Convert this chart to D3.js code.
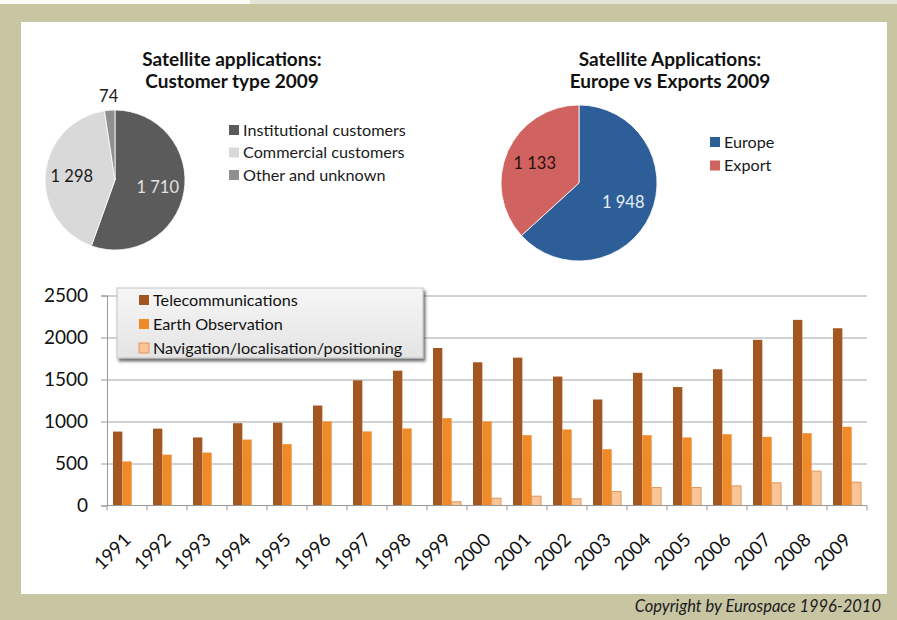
<!DOCTYPE html>
<html>
<head>
<meta charset="utf-8">
<script src="https://cdn.jsdelivr.net/npm/d3@7"></script>
<style>
  body { margin: 0; background: #c8c5a3; }
  svg { display: block; font-family: Lato, "Open Sans", sans-serif; }
</style>
</head>
<body>
<div id="chart"></div>
<script>
// bar chart data
const years = ['1991', '1992', '1993', '1994', '1995', '1996', '1997', '1998', '1999', '2000',
               '2001', '2002', '2003', '2004', '2005', '2006', '2007', '2008', '2009'];
const telecom = [880, 915, 810, 980, 985, 1190, 1490, 1605, 1875, 1705, 1760, 1535, 1262, 1580, 1410, 1622, 1972, 2210, 2110];
const earthObs = [525, 605, 630, 785, 730, 1000, 882, 917, 1040, 1000, 837, 905, 670, 837, 810, 849, 817, 861, 937];
const navigation = [0, 0, 0, 0, 0, 0, 0, 0, 44, 87, 111, 79, 167, 214, 214, 234, 270, 409, 278];
const seriesNames = ['Telecommunications', 'Earth Observation', 'Navigation/localisation/positioning'];
const yTicks = [0, 500, 1000, 1500, 2000, 2500];

// pie data
const customerLabels = ['Institutional customers', 'Commercial customers', 'Other and unknown'];
const customerValues = [1710, 1298, 74];
const marketLabels = ['Europe', 'Export'];
const marketValues = [1948, 1133];

const width = 897;
const height = 620;

const svg = d3.select('#chart')
  .append('svg')
  .attr('width', width)
  .attr('height', height);

const defs = svg.append('defs');
defs.append('filter').attr('id', 'shadow')
  .attr('x', '-10%').attr('y', '-20%').attr('width', '130%').attr('height', '160%')
  .append('feDropShadow')
  .attr('dx', 2).attr('dy', 3).attr('stdDeviation', 1.8)
  .attr('flood-color', '#333').attr('flood-opacity', 0.7);

const legendGrad = defs.append('linearGradient').attr('id', 'legendGrad')
  .attr('x1', 0).attr('y1', 0).attr('x2', 0).attr('y2', 1);
legendGrad.append('stop').attr('offset', '0%').attr('stop-color', '#f6f6f6');
legendGrad.append('stop').attr('offset', '100%').attr('stop-color', '#e4e4e4');

// frame
svg.append('rect').attr('width', width).attr('height', height).attr('fill', '#c8c5a3');
svg.append('rect').attr('width', width).attr('height', 4).attr('fill', '#e6e4d6');
svg.append('rect').attr('width', 250).attr('height', 4).attr('fill', '#fbfaf5');
svg.append('rect')
  .attr('x', 21).attr('y', 22)
  .attr('width', 866).attr('height', 572)
  .attr('fill', '#ffffff');

svg.append('text')
  .attr('x', 881).attr('y', 612)
  .attr('text-anchor', 'end')
  .attr('font-size', 16.5)
  .attr('font-style', 'italic')
  .attr('fill', '#1a1a1a')
  .text('Copyright by Eurospace 1996-2010');

// ---------- pies ----------
function drawPie(opts) {
  const g = svg.append('g').attr('transform', `translate(${opts.cx}, ${opts.cy})`);
  const total = d3.sum(opts.values);
  const pie = d3.pie().sort(null).value((d) => d);
  const arcs = pie(opts.values);
  const arc = d3.arc().innerRadius(0).outerRadius(opts.r);
  const labelArc = d3.arc().innerRadius(opts.r * 0.62).outerRadius(opts.r * 0.62);
  const outerArc = d3.arc().innerRadius(opts.r + 14).outerRadius(opts.r + 14);

  g.selectAll('path')
    .data(arcs)
    .join('path')
    .attr('d', arc)
    .attr('fill', (d, i) => opts.colors[i])
    .attr('stroke', '#fff')
    .attr('stroke-width', 0.8);

  g.selectAll('text.val')
    .data(arcs)
    .join('text')
    .attr('class', 'val')
    .attr('transform', (d) => {
      const small = d.value / total < 0.05;
      const c = small ? outerArc.centroid(d) : labelArc.centroid(d);
      return `translate(${c[0]}, ${c[1]})`;
    })
    .attr('text-anchor', 'middle')
    .attr('dy', '0.35em')
    .attr('font-size', 16.5)
    .attr('fill', (d, i) => opts.labelColors[i])
    .text((d) => d3.format(',')(d.value).replace(',', ' '));

  // title
  const title = svg.append('text')
    .attr('x', opts.titleX).attr('y', 66)
    .attr('text-anchor', 'middle')
    .attr('font-size', 19)
    .attr('font-weight', 'bold')
    .attr('fill', '#111');
  title.append('tspan').attr('x', opts.titleX).text(opts.title[0]);
  title.append('tspan').attr('x', opts.titleX).attr('dy', 21.5).text(opts.title[1]);

  // legend
  const leg = svg.append('g').attr('transform', `translate(${opts.legendX}, ${opts.legendY})`);
  const items = leg.selectAll('g')
    .data(opts.labels)
    .join('g')
    .attr('transform', (d, i) => `translate(0, ${i * opts.legendStep})`);
  items.append('rect')
    .attr('x', 0).attr('y', -5)
    .attr('width', 10).attr('height', 10)
    .attr('fill', (d, i) => opts.colors[i]);
  items.append('text')
    .attr('x', 14).attr('dy', '0.35em')
    .attr('font-size', 16.2)
    .attr('fill', '#1a1a1a')
    .text((d) => d);
}

drawPie({
  cx: 115, cy: 180, r: 70,
  values: customerValues,
  labels: customerLabels,
  colors: ['#5b5b5b', '#d9d9d9', '#8f8f8f'],
  labelColors: ['#e2e2e2', '#1a1a1a', '#1a1a1a'],
  title: ['Satellite applications:', 'Customer type 2009'],
  titleX: 232,
  legendX: 229, legendY: 130, legendStep: 22.5,
});

drawPie({
  cx: 579, cy: 183, r: 78,
  values: marketValues,
  labels: marketLabels,
  colors: ['#2e5e98', '#d0625f'],
  labelColors: ['#e6edf6', '#2a1010'],
  title: ['Satellite Applications:', 'Europe vs Exports 2009'],
  titleX: 670,
  legendX: 710, legendY: 142, legendStep: 23.5,
});

// ---------- bar chart ----------
const barData = years.map((y, i) => ({
  year: y,
  values: [telecom[i], earthObs[i], navigation[i]],
}));

const plot = { left: 107, right: 867, top: 295.5, bottom: 505.5 };

const x0 = d3.scaleBand()
  .domain(years)
  .range([plot.left, plot.right])
  .paddingInner(0.3)
  .paddingOuter(0.15);

const x1 = d3.scaleBand()
  .domain(d3.range(seriesNames.length))
  .range([0, x0.bandwidth()]);

const yScale = d3.scaleLinear()
  .domain([0, 2500])
  .range([plot.bottom, plot.top]);

const barColors = ['#a3561f', '#ef8a2b', '#f9c596'];
const barStroke = [null, null, '#e3955a'];

// gridlines
const gridlines = svg.append('g')
  .attr('class', 'gridlines')
  .attr('transform', `translate(${plot.left}, 0)`);
gridlines.call(d3.axisLeft(yScale).tickValues(yTicks.slice(1)).tickFormat('').tickSize(-(plot.right - plot.left)));
gridlines.select('.domain').remove();
gridlines.selectAll('line').attr('stroke', '#a2a4a8');

// y axis
const yAxis = svg.append('g')
  .attr('transform', `translate(${plot.left}, 0)`)
  .call(d3.axisLeft(yScale).tickValues(yTicks).tickFormat(d3.format('d')).tickSize(6).tickPadding(13));
yAxis.select('.domain').attr('stroke', '#999');
yAxis.selectAll('line').attr('stroke', '#999');
yAxis.selectAll('text')
  .attr('font-family', 'Lato, sans-serif')
  .attr('font-size', 19)
  .attr('fill', '#111');

// bars
const groups = svg.append('g')
  .selectAll('g')
  .data(barData)
  .join('g')
  .attr('transform', (d) => `translate(${x0(d.year)}, 0)`);

groups.selectAll('rect')
  .data((d) => d.values.map((v, i) => ({ v, i })).filter((e) => e.v > 0))
  .join('rect')
  .attr('x', (d) => x1(d.i))
  .attr('y', (d) => yScale(d.v))
  .attr('width', x1.bandwidth())
  .attr('height', (d) => yScale(0) - yScale(d.v))
  .attr('fill', (d) => barColors[d.i])
  .attr('stroke', (d) => barStroke[d.i])
  .attr('stroke-width', 1);

// x axis: line with ticks on the category boundaries
const xAxis = svg.append('g').attr('class', 'x-axis');
xAxis.append('line')
  .attr('x1', plot.left).attr('x2', plot.right)
  .attr('y1', yScale(0)).attr('y2', yScale(0))
  .attr('stroke', '#999');
const boundaries = years.map((y) => x0(y) - x0.step() * x0.paddingOuter()).concat([plot.right]);
xAxis.selectAll('line.tick')
  .data(boundaries)
  .join('line')
  .attr('class', 'tick')
  .attr('x1', (d) => d).attr('x2', (d) => d)
  .attr('y1', yScale(0)).attr('y2', yScale(0) + 5)
  .attr('stroke', '#999');

xAxis.selectAll('text')
  .data(years)
  .join('text')
  .attr('transform', (d) => `translate(${x0(d) + x0.bandwidth() / 2 + 5}, 541) rotate(-45)`)
  .attr('text-anchor', 'end')
  .attr('font-size', 18.5)
  .attr('fill', '#111')
  .text((d) => d);

// legend box
const legend = svg.append('g').attr('transform', 'translate(117, 288)');
legend.append('rect')
  .attr('width', 306).attr('height', 70)
  .attr('fill', 'url(#legendGrad)')
  .attr('stroke', '#c4c4c4')
  .attr('filter', 'url(#shadow)');

const legItems = legend.selectAll('g')
  .data(seriesNames)
  .join('g')
  .attr('transform', (d, i) => `translate(22, ${12 + i * 24})`);
legItems.append('rect')
  .attr('x', 0).attr('y', -5)
  .attr('width', 10).attr('height', 10)
  .attr('fill', (d, i) => barColors[i])
  .attr('stroke', (d, i) => barStroke[i]);
legItems.append('text')
  .attr('x', 14).attr('dy', '0.35em')
  .attr('font-size', 16.2)
  .attr('fill', '#111')
  .text((d) => d);
</script>
</body>
</html>
